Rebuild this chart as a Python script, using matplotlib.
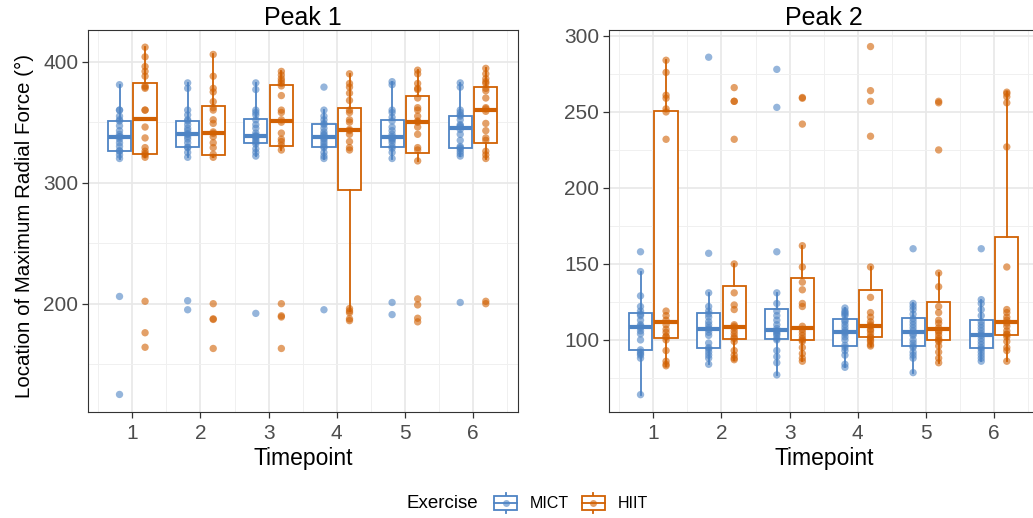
import matplotlib
matplotlib.use("Agg")
import matplotlib.pyplot as plt
from matplotlib.legend_handler import HandlerBase
from matplotlib.patches import Rectangle
from matplotlib.lines import Line2D

plt.rcParams['font.family'] = ['Liberation Sans', 'DejaVu Sans']

# ---------------- data ----------------
timepoints = [1, 2, 3, 4, 5, 6]
exercises = ['MICT', 'HIIT']
colors = {'MICT': '#4E84C4', 'HIIT': '#D16103'}
panel_titles = ['Peak 1', 'Peak 2']

peak1_mict = [
    [125, 206, 320, 323, 326, 326.5, 330, 333, 336, 338, 338, 340, 343, 347, 351, 352, 355, 360, 360, 381],
    [195, 202.5, 321, 325, 329, 329.5, 333, 336, 338, 340, 340.5, 343, 345, 348, 351, 352, 356, 360, 378, 382.5],
    [192, 322, 325, 328, 332, 333.5, 335, 337, 338, 338.5, 339, 341, 345, 348, 352, 356, 358, 360, 377, 382.5],
    [195, 320, 322, 325, 329, 330, 332, 334, 336, 337, 339, 340, 342, 345, 348, 349, 352, 355, 360, 379],
    [191, 201, 320, 325, 328.5, 330, 333, 335, 336, 337, 338, 340, 343, 346, 351, 354, 358, 360, 381, 383.5],
    [201, 322, 324, 326, 328, 329, 330, 335, 340, 344, 346, 347, 348, 352, 355, 356, 358, 360, 379, 382.5],
]
peak1_hiit = [
    [164, 176, 202, 321, 323, 324, 326, 329, 337, 346, 360, 360, 378, 379, 380, 388, 392, 396, 404, 412],
    [163, 187, 187.5, 200, 321, 323.5, 329, 333, 338, 340.8, 342, 349, 352, 360, 362, 367, 375, 378, 388, 406],
    [163, 189, 190, 200, 327, 331, 334, 336, 341, 350, 352, 358, 360, 372, 380, 382, 384, 386, 389, 392],
    [186, 187.5, 192.5, 194, 196, 327, 329, 334, 340, 343, 344, 350, 352, 358, 360, 368, 374, 379, 382, 390],
    [185, 188, 199, 204, 318, 327, 329, 340, 346, 350, 351, 355, 360, 362, 370, 377, 378, 382, 390, 393],
    [200, 202, 320, 323, 326, 335, 337, 343, 349, 359, 361, 362, 370, 376, 378, 382, 383.5, 386, 390, 394.5],
]
peak2_mict = [
    [64, 88, 90, 91, 92, 93.5, 100, 104, 106, 108, 109, 110, 113, 116, 117, 119, 122, 129, 145, 158],
    [84, 88, 90, 92, 94, 95, 98, 103, 105, 107, 108, 110, 112, 115, 117, 119, 122, 131, 157, 286],
    [77, 85, 89, 93, 100, 101, 103, 104, 105, 106, 107.5, 110, 113, 116, 119, 124, 131, 158, 253, 278],
    [82, 84, 90, 93, 95, 96.5, 100, 102, 104, 105, 106, 108, 110, 112, 113, 116, 117, 118, 119, 121],
    [78.5, 88, 90, 92, 95, 96, 98, 100, 103, 104, 106, 108, 110, 112, 114, 117, 120, 122, 124, 160],
    [86, 88, 90, 92, 94, 95, 97, 99, 101, 103, 104, 106, 108, 110, 112, 116, 120, 124, 126.5, 160],
]
peak2_hiit = [
    [83, 84, 86, 93, 100, 102, 102.5, 105, 107, 110, 113, 116, 119, 232, 250, 252, 259, 261, 276, 284],
    [87, 88, 90, 93, 99, 101, 102, 104, 106, 108, 109, 110, 120, 123, 131, 150, 232, 257, 257, 266],
    [86, 88, 91, 95, 99, 100, 101, 103, 105, 107, 109, 122, 124, 133, 138, 148, 162, 242, 259, 259.5],
    [96, 97, 99, 100, 101.5, 102, 104, 106, 107, 109, 110, 112, 115, 118, 128, 148, 234, 257, 264, 293],
    [85, 88, 92, 96, 99, 100, 101, 103, 105, 106, 108, 111, 113, 118, 122, 135, 144, 225, 256, 257],
    [86, 93, 95, 99, 102, 103.5, 104, 106, 109, 111, 113, 115, 118, 120, 148, 227, 256, 260, 262, 263],
]
peak1_yticks = [200, 300, 400]
peak2_yticks = [100, 150, 200, 250, 300]

# ---------------- figure ----------------
W, H = 1033, 518
fig = plt.figure(figsize=(W / 100, H / 100), dpi=100)


def px_axes(x0, y0, x1, y1):
    return fig.add_axes([x0 / W, 1 - y1 / H, (x1 - x0) / W, (y1 - y0) / H])


ax1 = px_axes(88, 30, 518, 412)
ax2 = px_axes(609, 30, 1039, 412)

DODGE = 0.1875
BOXW = 0.34
LW = 1.3


def draw_panel(ax, mict, hiit, ylim, yticks, title):
    ax.set_xlim(0.35, 6.66)
    ax.set_xticks(timepoints)
    ax.set_xticks([t - 0.5 for t in timepoints] + [timepoints[-1] + 0.5], minor=True)
    ax.set_yticks(yticks)
    step = yticks[1] - yticks[0]
    ax.set_yticks([yticks[0] - step / 2] + [y + step / 2 for y in yticks], minor=True)
    ax.set_ylim(*ylim)
    ax.set_axisbelow(True)
    ax.grid(which='major', color='#E8E8E8', linewidth=1.2)
    ax.grid(which='minor', color='#F0F0F0', linewidth=0.7)
    ax.tick_params(which='minor', length=0)
    ax.tick_params(which='major', direction='out', length=4, width=0.9,
                   color='#333333', labelcolor='#4D4D4D', labelsize=15, pad=3)
    ax.tick_params(axis='x', which='major', pad=4.5)
    for s in ax.spines.values():
        s.set_color('#333333')
        s.set_linewidth(0.8)
    for data, off, g in [(mict, -DODGE, 'MICT'), (hiit, DODGE, 'HIIT')]:
        c = colors[g]
        pos = [t + off for t in timepoints]
        ax.boxplot(data, positions=pos, widths=BOXW, patch_artist=True,
                   showcaps=False, showfliers=False, whis=1.5, manage_ticks=False,
                   boxprops=dict(facecolor='white', edgecolor=c, linewidth=LW),
                   whiskerprops=dict(color=c, linewidth=LW),
                   medianprops=dict(color=c, linewidth=3.0, solid_capstyle='butt'),
                   zorder=2)
        for p, vals in zip(pos, data):
            ax.scatter([p] * len(vals), vals, s=28, color=c, alpha=0.6,
                       edgecolors='none', zorder=3)
    ax.set_title(title, fontsize=18, pad=3)
    ax.set_xlabel('Timepoint', fontsize=16.5, labelpad=3)


draw_panel(ax1, peak1_mict, peak1_hiit, (110.5, 426.2), peak1_yticks, panel_titles[0])
draw_panel(ax2, peak2_mict, peak2_hiit, (52.6, 303.9), peak2_yticks, panel_titles[1])

fig.text(24 / W, 1 - 226 / H, 'Location of Maximum Radial Force (°)', rotation=90,
         ha='center', va='center', fontsize=14.8)


# ---------------- legend ----------------
class BoxKey(HandlerBase):
    def create_artists(self, legend, orig_handle, xdescent, ydescent, width, height,
                       fontsize, trans):
        c = orig_handle.get_color()
        x0, y0 = -xdescent, -ydescent
        bh = height * 0.66
        by = y0 + (height - bh) / 2
        mid = y0 + height / 2
        xc = x0 + width / 2
        rect = Rectangle((x0, by), width, bh, facecolor='white', edgecolor=c,
                         linewidth=LW, transform=trans)
        med = Line2D([x0, x0 + width], [mid, mid], color=c, lw=LW, transform=trans)
        wt = Line2D([xc, xc], [by + bh, y0 + height], color=c, lw=LW, transform=trans)
        wb = Line2D([xc, xc], [y0, by], color=c, lw=LW, transform=trans)
        pt = Line2D([xc], [mid], marker='o', ms=5, color=c, alpha=0.6,
                    markeredgecolor='none', linestyle='none', transform=trans)
        return [wt, wb, rect, med, pt]


handles = [Line2D([], [], color=colors[g]) for g in exercises]
fig.text(406 / W, 1 - 503 / H, 'Exercise', ha='left', va='center', fontsize=13.5)
fig.legend(handles, exercises, handler_map={Line2D: BoxKey()},
           loc='center left', bbox_to_anchor=(494 / W, 1 - 503 / H),
           ncol=2, frameon=False, fontsize=11.5, handlelength=1.45, handleheight=1.6,
           handletextpad=0.8, columnspacing=0.8, borderpad=0, borderaxespad=0)

fig.savefig('out.png', dpi=100)
